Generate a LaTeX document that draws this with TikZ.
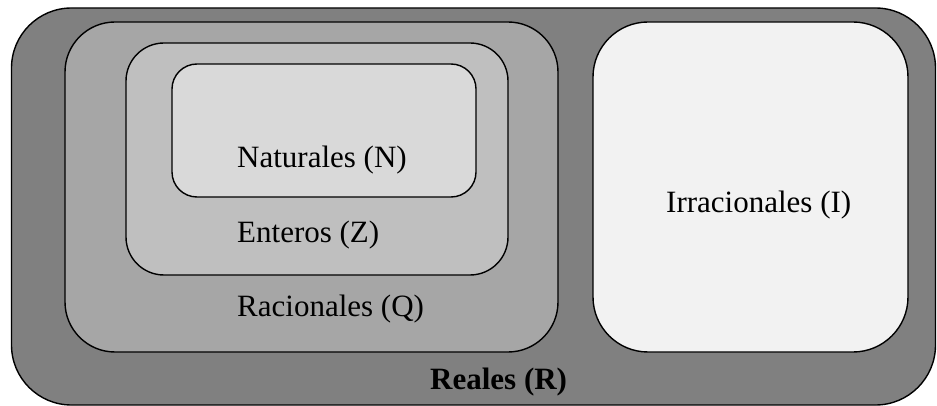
\documentclass[tikz,border=0pt]{standalone}
\usepackage{fontspec}
\setmainfont{Liberation Serif}
\usetikzlibrary{positioning}

\definecolor{colR}{HTML}{808080}
\definecolor{colQ}{HTML}{A6A6A6}
\definecolor{colZ}{HTML}{BFBFBF}
\definecolor{colN}{HTML}{D9D9D9}
\definecolor{colI}{HTML}{F2F2F2}

\begin{document}
\begin{tikzpicture}[x=1pt,y=-1pt,
    conjunto/.style={rectangle, draw=black, line width=1.4pt, inner sep=0pt},
    etiqueta/.style={font=\fontsize{31}{36}\selectfont, inner sep=0pt, anchor=base west}]
  \useasboundingbox (0,0) rectangle (937,406);

  % conjuntos
  \node[conjunto, fill=colR, rounded corners=60pt, minimum width=924pt, minimum height=397pt] (R) at (473.5,206.5) {};
  \node[conjunto, fill=colQ, rounded corners=50pt, minimum width=493pt, minimum height=330pt] (Q) at (311.5,187) {};
  \node[conjunto, fill=colZ, rounded corners=38pt, minimum width=382pt, minimum height=232pt] (Z) at (317,159) {};
  \node[conjunto, fill=colN, rounded corners=25pt, minimum width=304pt, minimum height=133pt] (N) at (324,130.5) {};
  \node[conjunto, fill=colI, rounded corners=55pt, minimum width=315pt, minimum height=330pt] (I) at (750.5,187) {};

  % nombres
  \node[etiqueta] (nN) at (237,168) {Naturales (N)};
  \node[etiqueta] (nZ) at (237,243) {Enteros (Z)};
  \node[etiqueta] (nQ) at (237,316) {Racionales (Q)};
  \node[etiqueta] (nI) at (666,213) {Irracionales (I)};
  \node[etiqueta] (nR) at (430,389) {\textbf{Reales (R)}};
\end{tikzpicture}
\end{document}
